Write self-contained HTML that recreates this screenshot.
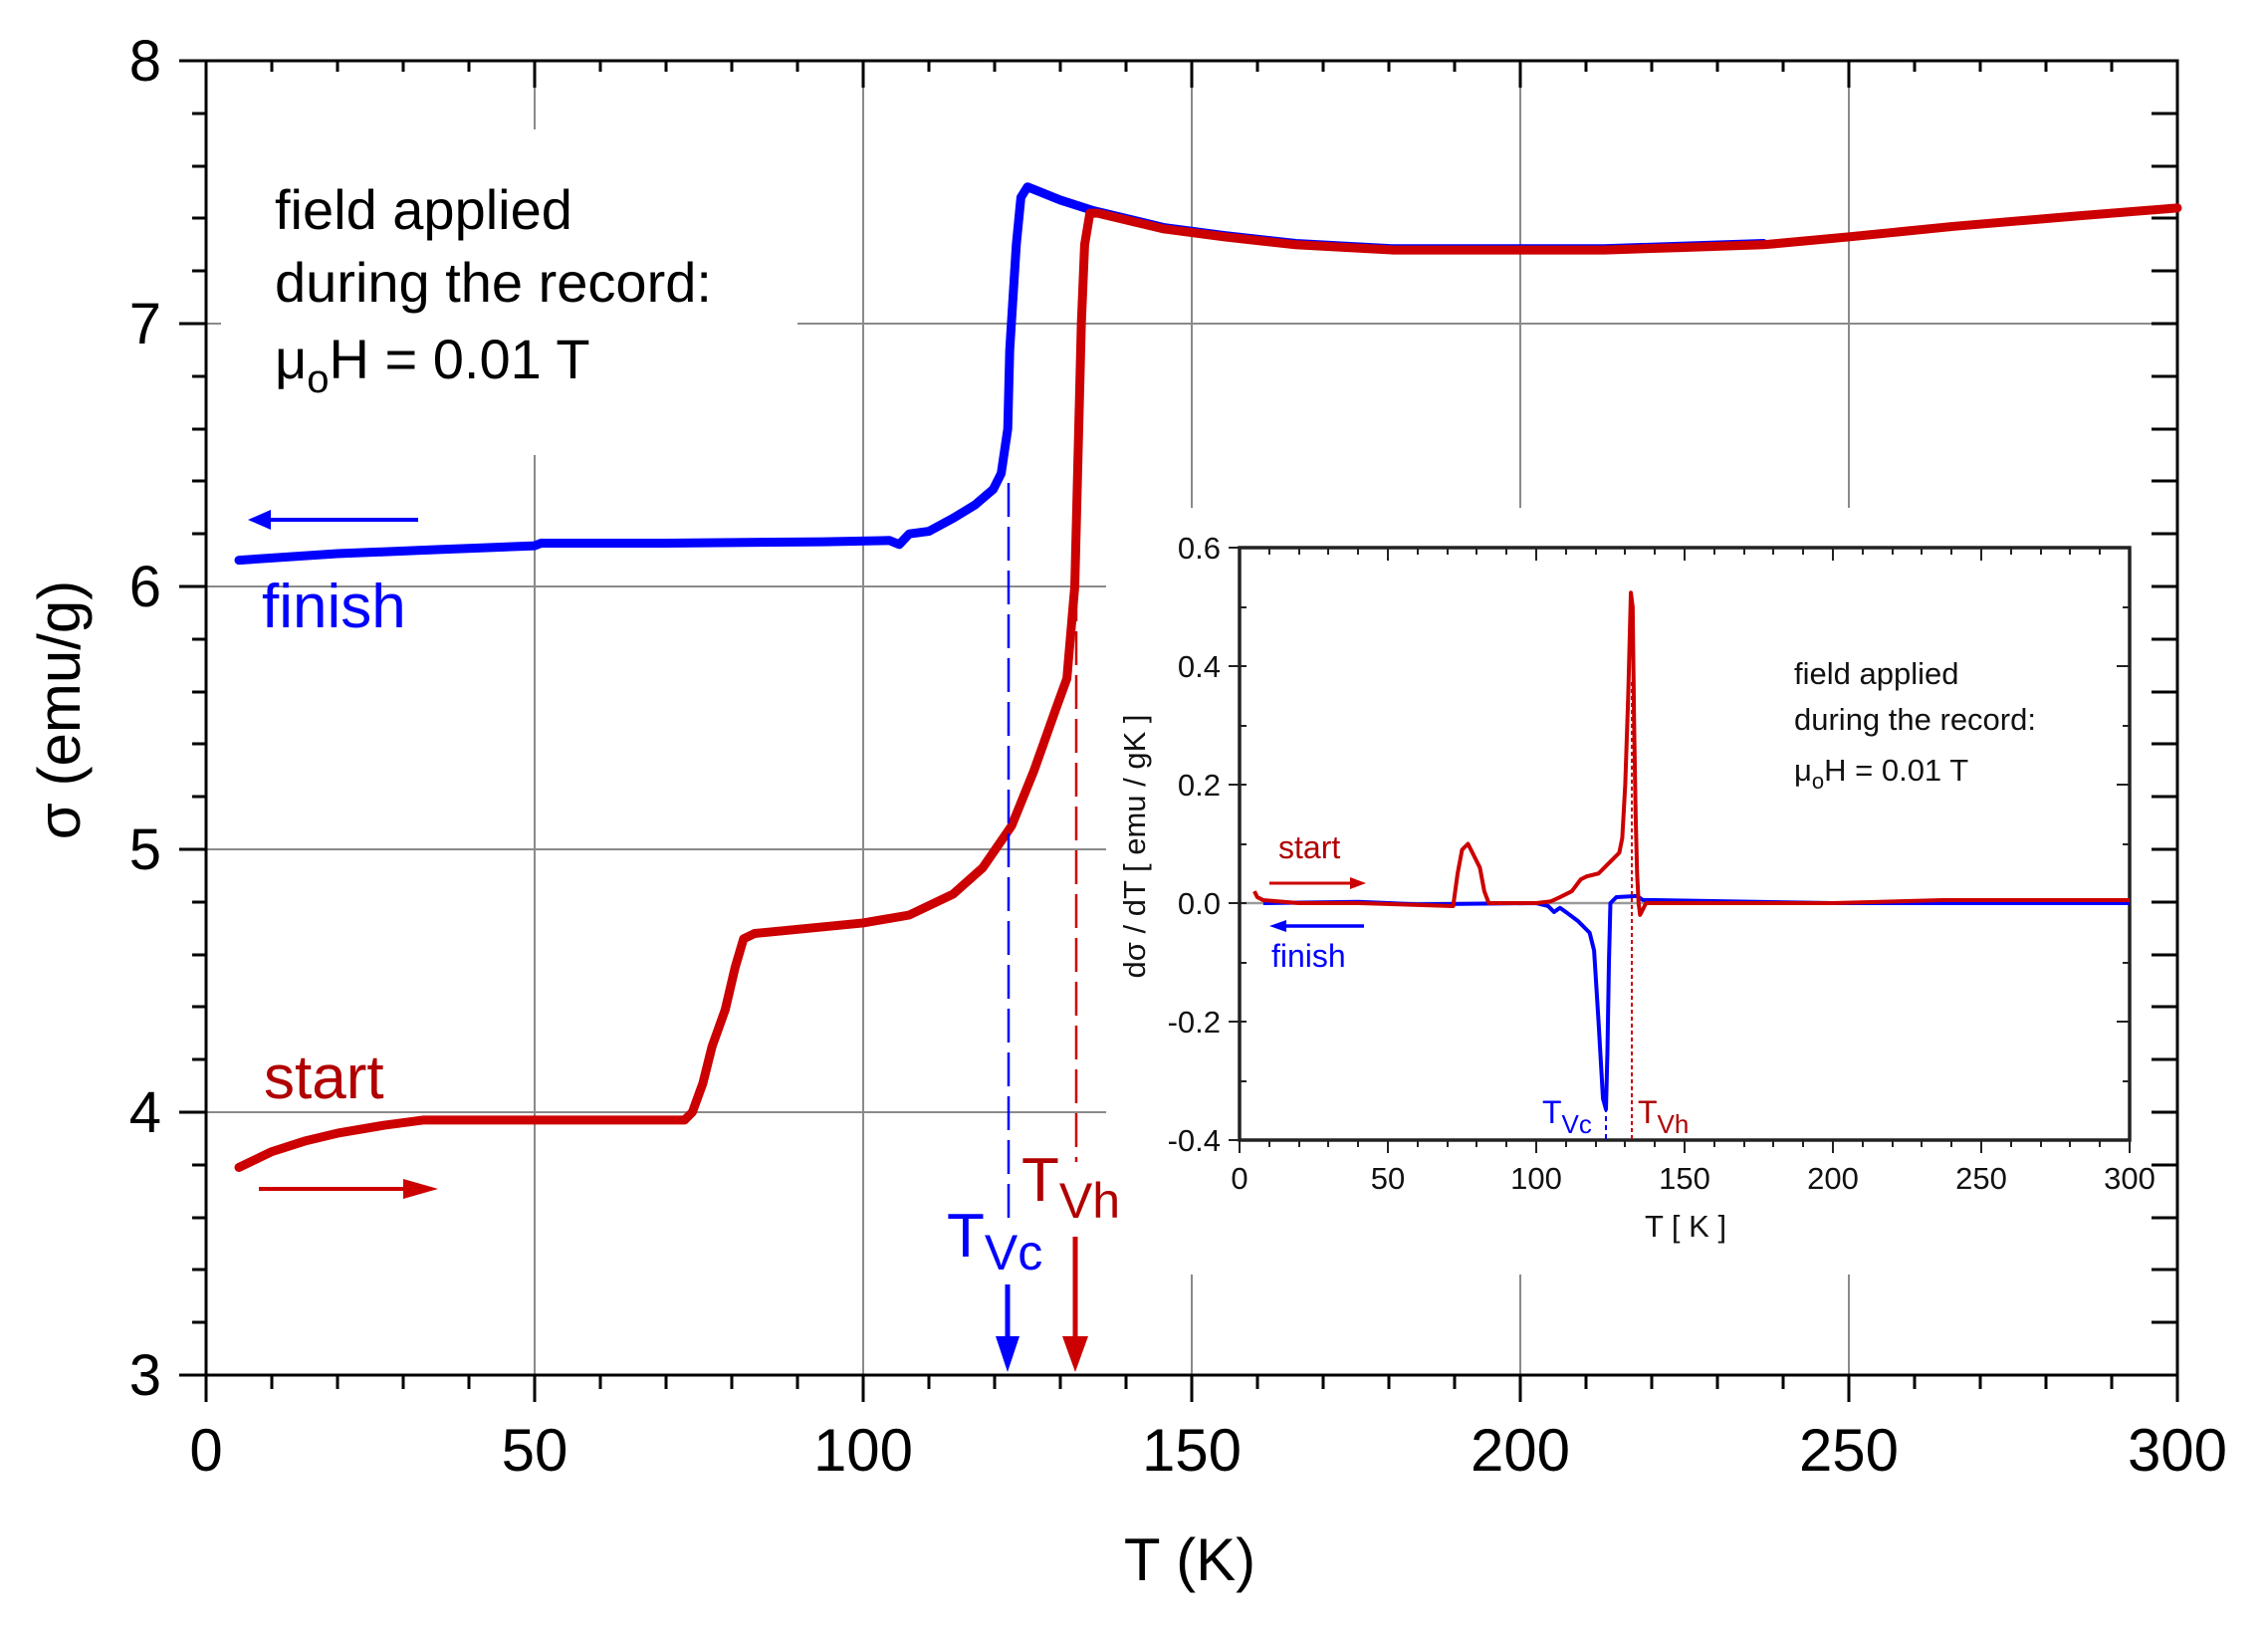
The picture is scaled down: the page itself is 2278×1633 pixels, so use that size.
<!DOCTYPE html>
<html><head><meta charset="utf-8"><style>
html,body{margin:0;padding:0;background:#fff;}
svg{display:block;font-family:"Liberation Sans",Arial,sans-serif;}
</style></head><body>
<svg width="2278" height="1633" viewBox="0 0 2278 1633" xmlns="http://www.w3.org/2000/svg">
<rect width="2278" height="1633" fill="#fff"/>
<!-- grid -->
<g stroke="#8a8a8a" stroke-width="2">
  <line x1="537" y1="61" x2="537" y2="1381"/>
  <line x1="867" y1="61" x2="867" y2="1381"/>
  <line x1="1197" y1="61" x2="1197" y2="1381"/>
  <line x1="1527" y1="61" x2="1527" y2="1381"/>
  <line x1="1857" y1="61" x2="1857" y2="1381"/>
  <line x1="207" y1="325" x2="2187" y2="325"/>
  <line x1="207" y1="589" x2="2187" y2="589"/>
  <line x1="207" y1="853" x2="2187" y2="853"/>
  <line x1="207" y1="1117" x2="2187" y2="1117"/>
</g>
<!-- white masks -->
<rect x="222" y="130" width="579" height="327" fill="#fff"/>
<rect x="1111" y="510" width="1070" height="770" fill="#fff"/>

<!-- main axes -->
<g stroke="#000" stroke-width="3" fill="none">
  <rect x="207" y="61" width="1980" height="1320"/>
</g>
<g stroke="#000" stroke-width="3">
  <line x1="180" y1="61" x2="207" y2="61"/><line x1="193" y1="114" x2="207" y2="114"/><line x1="193" y1="167" x2="207" y2="167"/><line x1="193" y1="219" x2="207" y2="219"/><line x1="193" y1="272" x2="207" y2="272"/>
  <line x1="180" y1="325" x2="207" y2="325"/><line x1="193" y1="378" x2="207" y2="378"/><line x1="193" y1="431" x2="207" y2="431"/><line x1="193" y1="483" x2="207" y2="483"/><line x1="193" y1="536" x2="207" y2="536"/>
  <line x1="180" y1="589" x2="207" y2="589"/><line x1="193" y1="642" x2="207" y2="642"/><line x1="193" y1="695" x2="207" y2="695"/><line x1="193" y1="747" x2="207" y2="747"/><line x1="193" y1="800" x2="207" y2="800"/>
  <line x1="180" y1="853" x2="207" y2="853"/><line x1="193" y1="906" x2="207" y2="906"/><line x1="193" y1="959" x2="207" y2="959"/><line x1="193" y1="1011" x2="207" y2="1011"/><line x1="193" y1="1064" x2="207" y2="1064"/>
  <line x1="180" y1="1117" x2="207" y2="1117"/><line x1="193" y1="1170" x2="207" y2="1170"/><line x1="193" y1="1223" x2="207" y2="1223"/><line x1="193" y1="1275" x2="207" y2="1275"/><line x1="193" y1="1328" x2="207" y2="1328"/>
  <line x1="180" y1="1381" x2="207" y2="1381"/>
  <line x1="2161" y1="114" x2="2187" y2="114"/><line x1="2161" y1="167" x2="2187" y2="167"/><line x1="2161" y1="219" x2="2187" y2="219"/><line x1="2161" y1="272" x2="2187" y2="272"/><line x1="2161" y1="325" x2="2187" y2="325"/>
  <line x1="2161" y1="378" x2="2187" y2="378"/><line x1="2161" y1="431" x2="2187" y2="431"/><line x1="2161" y1="483" x2="2187" y2="483"/><line x1="2161" y1="536" x2="2187" y2="536"/><line x1="2161" y1="589" x2="2187" y2="589"/>
  <line x1="2161" y1="642" x2="2187" y2="642"/><line x1="2161" y1="695" x2="2187" y2="695"/><line x1="2161" y1="747" x2="2187" y2="747"/><line x1="2161" y1="800" x2="2187" y2="800"/><line x1="2161" y1="853" x2="2187" y2="853"/>
  <line x1="2161" y1="906" x2="2187" y2="906"/><line x1="2161" y1="959" x2="2187" y2="959"/><line x1="2161" y1="1011" x2="2187" y2="1011"/><line x1="2161" y1="1064" x2="2187" y2="1064"/><line x1="2161" y1="1117" x2="2187" y2="1117"/>
  <line x1="2161" y1="1170" x2="2187" y2="1170"/><line x1="2161" y1="1223" x2="2187" y2="1223"/><line x1="2161" y1="1275" x2="2187" y2="1275"/><line x1="2161" y1="1328" x2="2187" y2="1328"/>
</g>
<g stroke="#000" stroke-width="3">
  <line x1="207" y1="1381" x2="207" y2="1408"/><line x1="273" y1="1381" x2="273" y2="1395"/><line x1="339" y1="1381" x2="339" y2="1395"/><line x1="405" y1="1381" x2="405" y2="1395"/><line x1="471" y1="1381" x2="471" y2="1395"/>
  <line x1="537" y1="1381" x2="537" y2="1408"/><line x1="603" y1="1381" x2="603" y2="1395"/><line x1="669" y1="1381" x2="669" y2="1395"/><line x1="735" y1="1381" x2="735" y2="1395"/><line x1="801" y1="1381" x2="801" y2="1395"/>
  <line x1="867" y1="1381" x2="867" y2="1408"/><line x1="933" y1="1381" x2="933" y2="1395"/><line x1="999" y1="1381" x2="999" y2="1395"/><line x1="1065" y1="1381" x2="1065" y2="1395"/><line x1="1131" y1="1381" x2="1131" y2="1395"/>
  <line x1="1197" y1="1381" x2="1197" y2="1408"/><line x1="1263" y1="1381" x2="1263" y2="1395"/><line x1="1329" y1="1381" x2="1329" y2="1395"/><line x1="1395" y1="1381" x2="1395" y2="1395"/><line x1="1461" y1="1381" x2="1461" y2="1395"/>
  <line x1="1527" y1="1381" x2="1527" y2="1408"/><line x1="1593" y1="1381" x2="1593" y2="1395"/><line x1="1659" y1="1381" x2="1659" y2="1395"/><line x1="1725" y1="1381" x2="1725" y2="1395"/><line x1="1791" y1="1381" x2="1791" y2="1395"/>
  <line x1="1857" y1="1381" x2="1857" y2="1408"/><line x1="1923" y1="1381" x2="1923" y2="1395"/><line x1="1989" y1="1381" x2="1989" y2="1395"/><line x1="2055" y1="1381" x2="2055" y2="1395"/><line x1="2121" y1="1381" x2="2121" y2="1395"/>
  <line x1="2187" y1="1381" x2="2187" y2="1408"/>
  <line x1="273" y1="61" x2="273" y2="72"/><line x1="339" y1="61" x2="339" y2="72"/><line x1="405" y1="61" x2="405" y2="72"/><line x1="471" y1="61" x2="471" y2="72"/>
  <line x1="537" y1="61" x2="537" y2="88"/><line x1="603" y1="61" x2="603" y2="72"/><line x1="669" y1="61" x2="669" y2="72"/><line x1="735" y1="61" x2="735" y2="72"/><line x1="801" y1="61" x2="801" y2="72"/>
  <line x1="867" y1="61" x2="867" y2="88"/><line x1="933" y1="61" x2="933" y2="72"/><line x1="999" y1="61" x2="999" y2="72"/><line x1="1065" y1="61" x2="1065" y2="72"/><line x1="1131" y1="61" x2="1131" y2="72"/>
  <line x1="1197" y1="61" x2="1197" y2="88"/><line x1="1263" y1="61" x2="1263" y2="72"/><line x1="1329" y1="61" x2="1329" y2="72"/><line x1="1395" y1="61" x2="1395" y2="72"/><line x1="1461" y1="61" x2="1461" y2="72"/>
  <line x1="1527" y1="61" x2="1527" y2="88"/><line x1="1593" y1="61" x2="1593" y2="72"/><line x1="1659" y1="61" x2="1659" y2="72"/><line x1="1725" y1="61" x2="1725" y2="72"/><line x1="1791" y1="61" x2="1791" y2="72"/>
  <line x1="1857" y1="61" x2="1857" y2="88"/><line x1="1923" y1="61" x2="1923" y2="72"/><line x1="1989" y1="61" x2="1989" y2="72"/><line x1="2055" y1="61" x2="2055" y2="72"/><line x1="2121" y1="61" x2="2121" y2="72"/>
</g>
<g font-size="58" fill="#000" text-anchor="end">
  <text x="162" y="81">8</text><text x="162" y="345">7</text><text x="162" y="609">6</text><text x="162" y="873">5</text><text x="162" y="1137">4</text><text x="162" y="1401">3</text>
</g>
<g font-size="60" fill="#000" text-anchor="middle">
  <text x="207" y="1477">0</text><text x="537" y="1477">50</text><text x="867" y="1477">100</text><text x="1197" y="1477">150</text><text x="1527" y="1477">200</text><text x="1857" y="1477">250</text><text x="2187" y="1477">300</text>
  <text x="1195" y="1587">T (K)</text>
</g>
<text transform="translate(80,713) rotate(-90)" font-size="60" text-anchor="middle">σ (emu/g)</text>

<g font-size="56" fill="#000">
  <text x="276" y="230">field applied</text>
  <text x="276" y="303">during the record:</text>
  <text x="276" y="380">μ<tspan font-size="40" dy="14">o</tspan><tspan dy="-14">H = 0.01 T</tspan></text>
</g>

<g transform="translate(207,2173) scale(6.6,-264)" fill="none" stroke-linejoin="round" stroke-linecap="round">
  <polyline vector-effect="non-scaling-stroke" stroke="#0000ff" stroke-width="9" points="5,6.10 20,6.125 35,6.14 50,6.155 51,6.165 70,6.165 94,6.17 104,6.175 105.5,6.16 107,6.20 110,6.21 113.7,6.26 117,6.31 119.8,6.37 121,6.43 122,6.60 122.3,6.9 122.8,7.1 123.3,7.3 124,7.48 125,7.52 126,7.51 130,7.47 135,7.43 145.8,7.365 155,7.335 165.8,7.305 180.6,7.285 212.8,7.285 237,7.305"/>
  <polyline vector-effect="non-scaling-stroke" stroke="#cc0000" stroke-width="9" points="5,3.79 10,3.85 15,3.89 20,3.92 27,3.95 33,3.97 72.8,3.97 74,4.0 75.6,4.11 77,4.25 79,4.39 80.5,4.55 81.8,4.66 83.5,4.68 100,4.72 107,4.75 113.7,4.83 118.2,4.93 122.6,5.09 126,5.30 129.4,5.54 131,5.65 132.2,6.0 132.7,6.5 133.2,7.0 133.7,7.3 134.5,7.42 135.7,7.42 145.8,7.36 155,7.33 165.8,7.30 180.6,7.28 212.8,7.28 225,7.29 237,7.30 250,7.33 266,7.37 285,7.41 300,7.44"/>
</g>
<line x1="1013" y1="485" x2="1013" y2="1227" stroke="#0000ff" stroke-width="2.5" stroke-dasharray="34,10"/>
<line x1="1081" y1="590" x2="1081" y2="1167" stroke="#cc0000" stroke-width="2.5" stroke-dasharray="34,10"/>
<line x1="1012" y1="1290" x2="1012" y2="1350" stroke="#0000ff" stroke-width="5"/>
<polygon points="1000,1342 1024,1342 1012,1378" fill="#0000ff"/>
<line x1="1080" y1="1242" x2="1080" y2="1350" stroke="#cc0000" stroke-width="5"/>
<polygon points="1067,1342 1093,1342 1080,1378" fill="#cc0000"/>
<text x="951" y="1262" font-size="62" fill="#0000ff">T<tspan font-size="50" dy="13">Vc</tspan></text>
<text x="1026" y="1206" font-size="62" fill="#b00000">T<tspan font-size="50" dy="17">Vh</tspan></text>

<line x1="420" y1="522" x2="268" y2="522" stroke="#0000ff" stroke-width="4"/>
<polygon points="249,522 272,512 272,532" fill="#0000ff"/>
<text x="263" y="630" font-size="62" fill="#0000ff">finish</text>
<line x1="260" y1="1194" x2="420" y2="1194" stroke="#cc0000" stroke-width="4"/>
<polygon points="440,1194 405,1184 405,1204" fill="#cc0000"/>
<text x="265" y="1103" font-size="62" fill="#b00000">start</text>

<!-- INSET -->
<line x1="1245" y1="907" x2="2139" y2="907" stroke="#9a9a9a" stroke-width="2.5"/>
<rect x="1245" y="550" width="894" height="595" fill="none" stroke="#222" stroke-width="3.5"/>
<g stroke="#222" stroke-width="2">
  <line x1="1245" y1="1145" x2="1245" y2="1158"/><line x1="1275" y1="1145" x2="1275" y2="1152"/><line x1="1305" y1="1145" x2="1305" y2="1152"/><line x1="1334" y1="1145" x2="1334" y2="1152"/><line x1="1364" y1="1145" x2="1364" y2="1152"/>
  <line x1="1394" y1="1145" x2="1394" y2="1158"/><line x1="1424" y1="1145" x2="1424" y2="1152"/><line x1="1454" y1="1145" x2="1454" y2="1152"/><line x1="1483" y1="1145" x2="1483" y2="1152"/><line x1="1513" y1="1145" x2="1513" y2="1152"/>
  <line x1="1543" y1="1145" x2="1543" y2="1158"/><line x1="1573" y1="1145" x2="1573" y2="1152"/><line x1="1603" y1="1145" x2="1603" y2="1152"/><line x1="1632" y1="1145" x2="1632" y2="1152"/><line x1="1662" y1="1145" x2="1662" y2="1152"/>
  <line x1="1692" y1="1145" x2="1692" y2="1158"/><line x1="1722" y1="1145" x2="1722" y2="1152"/><line x1="1752" y1="1145" x2="1752" y2="1152"/><line x1="1781" y1="1145" x2="1781" y2="1152"/><line x1="1811" y1="1145" x2="1811" y2="1152"/>
  <line x1="1841" y1="1145" x2="1841" y2="1158"/><line x1="1871" y1="1145" x2="1871" y2="1152"/><line x1="1901" y1="1145" x2="1901" y2="1152"/><line x1="1930" y1="1145" x2="1930" y2="1152"/><line x1="1960" y1="1145" x2="1960" y2="1152"/>
  <line x1="1990" y1="1145" x2="1990" y2="1158"/><line x1="2020" y1="1145" x2="2020" y2="1152"/><line x1="2050" y1="1145" x2="2050" y2="1152"/><line x1="2079" y1="1145" x2="2079" y2="1152"/><line x1="2109" y1="1145" x2="2109" y2="1152"/>
  <line x1="2139" y1="1145" x2="2139" y2="1158"/>
  <line x1="1275" y1="550" x2="1275" y2="557"/><line x1="1305" y1="550" x2="1305" y2="557"/><line x1="1334" y1="550" x2="1334" y2="557"/><line x1="1364" y1="550" x2="1364" y2="557"/><line x1="1394" y1="550" x2="1394" y2="563"/>
  <line x1="1424" y1="550" x2="1424" y2="557"/><line x1="1454" y1="550" x2="1454" y2="557"/><line x1="1483" y1="550" x2="1483" y2="557"/><line x1="1513" y1="550" x2="1513" y2="557"/><line x1="1543" y1="550" x2="1543" y2="563"/>
  <line x1="1573" y1="550" x2="1573" y2="557"/><line x1="1603" y1="550" x2="1603" y2="557"/><line x1="1632" y1="550" x2="1632" y2="557"/><line x1="1662" y1="550" x2="1662" y2="557"/><line x1="1692" y1="550" x2="1692" y2="563"/>
  <line x1="1722" y1="550" x2="1722" y2="557"/><line x1="1752" y1="550" x2="1752" y2="557"/><line x1="1781" y1="550" x2="1781" y2="557"/><line x1="1811" y1="550" x2="1811" y2="557"/><line x1="1841" y1="550" x2="1841" y2="563"/>
  <line x1="1871" y1="550" x2="1871" y2="557"/><line x1="1901" y1="550" x2="1901" y2="557"/><line x1="1930" y1="550" x2="1930" y2="557"/><line x1="1960" y1="550" x2="1960" y2="557"/><line x1="1990" y1="550" x2="1990" y2="563"/>
  <line x1="2020" y1="550" x2="2020" y2="557"/><line x1="2050" y1="550" x2="2050" y2="557"/><line x1="2079" y1="550" x2="2079" y2="557"/><line x1="2109" y1="550" x2="2109" y2="557"/>
  <line x1="1234" y1="550" x2="1245" y2="550"/><line x1="1245" y1="610" x2="1252" y2="610"/><line x1="1234" y1="669" x2="1252" y2="669"/><line x1="1245" y1="729" x2="1252" y2="729"/><line x1="1234" y1="788" x2="1252" y2="788"/><line x1="1245" y1="848" x2="1252" y2="848"/>
  <line x1="1234" y1="907" x2="1252" y2="907"/><line x1="1245" y1="967" x2="1252" y2="967"/><line x1="1234" y1="1026" x2="1252" y2="1026"/><line x1="1245" y1="1086" x2="1252" y2="1086"/><line x1="1234" y1="1145" x2="1245" y2="1145"/>
  <line x1="2132" y1="610" x2="2139" y2="610"/><line x1="2126" y1="669" x2="2139" y2="669"/><line x1="2132" y1="729" x2="2139" y2="729"/><line x1="2126" y1="788" x2="2139" y2="788"/><line x1="2132" y1="848" x2="2139" y2="848"/>
  <line x1="2126" y1="907" x2="2139" y2="907"/><line x1="2132" y1="967" x2="2139" y2="967"/><line x1="2126" y1="1026" x2="2139" y2="1026"/><line x1="2132" y1="1086" x2="2139" y2="1086"/>
</g>
<g font-size="31" fill="#111" text-anchor="end">
  <text x="1226" y="561">0.6</text><text x="1226" y="680">0.4</text><text x="1226" y="799">0.2</text><text x="1226" y="918">0.0</text><text x="1226" y="1037">-0.2</text><text x="1226" y="1156">-0.4</text>
</g>
<g font-size="31" fill="#111" text-anchor="middle">
  <text x="1245" y="1194">0</text><text x="1394" y="1194">50</text><text x="1543" y="1194">100</text><text x="1692" y="1194">150</text><text x="1841" y="1194">200</text><text x="1990" y="1194">250</text><text x="2139" y="1194">300</text>
  <text x="1693" y="1242">T [ K ]</text>
</g>
<text transform="translate(1150,850) rotate(-90)" font-size="31" fill="#111" text-anchor="middle">dσ / dT [ emu / gK ]</text>
<g font-size="31" fill="#111">
  <text x="1802" y="687">field applied</text>
  <text x="1802" y="733">during the record:</text>
  <text x="1802" y="784">μ<tspan font-size="22" dy="8">o</tspan><tspan dy="-8">H = 0.01 T</tspan></text>
</g>
<g transform="translate(1245,907) scale(2.98,-595)" fill="none" stroke-linejoin="round">
  <polyline vector-effect="non-scaling-stroke" stroke="#0000ff" stroke-width="4" points="8,0 40,0.002 60,-0.002 100,0 104,-0.005 106,-0.015 108,-0.008 110,-0.015 114,-0.03 118,-0.05 119.5,-0.08 121,-0.2 122.5,-0.33 123.5,-0.348 124,-0.25 124.5,-0.1 125,0 127,0.01 134,0.012 136,0.005 140,0.005 200,0 300,0"/>
  <polyline vector-effect="non-scaling-stroke" stroke="#cc0000" stroke-width="4" points="5,0.02 6,0.01 8,0.005 20,0 40,0 72,-0.005 73.5,0.05 75,0.09 77,0.1 79,0.08 81,0.06 82.5,0.02 84,0 100,0 105,0.003 108,0.01 112,0.02 115,0.04 117,0.045 121,0.05 124,0.065 128,0.085 129,0.11 130,0.2 131,0.35 131.9,0.524 132.5,0.5 133,0.3 133.5,0.15 134,0.05 134.5,0.0 135,-0.02 137,0 200,0 237,0.005 300,0.005"/>
</g>
<line x1="1613" y1="1112" x2="1613" y2="1145" stroke="#0000ff" stroke-width="2" stroke-dasharray="5,4"/>
<line x1="1639" y1="685" x2="1639" y2="1145" stroke="#cc0000" stroke-width="2" stroke-dasharray="4,3"/>
<text x="1549" y="1128" font-size="32" fill="#0000ff">T<tspan font-size="26" dy="10">Vc</tspan></text>
<text x="1645" y="1128" font-size="32" fill="#b00000">T<tspan font-size="26" dy="10">Vh</tspan></text>
<text x="1284" y="862" font-size="32" fill="#b00000">start</text>
<line x1="1275" y1="887" x2="1360" y2="887" stroke="#cc0000" stroke-width="3"/>
<polygon points="1372,887 1356,881 1356,893" fill="#cc0000"/>
<line x1="1290" y1="930" x2="1370" y2="930" stroke="#0000ff" stroke-width="3.5"/>
<polygon points="1275,930 1292,924 1292,936" fill="#0000ff"/>
<text x="1277" y="971" font-size="32" fill="#0000ff">finish</text>
</svg>
</body></html>
